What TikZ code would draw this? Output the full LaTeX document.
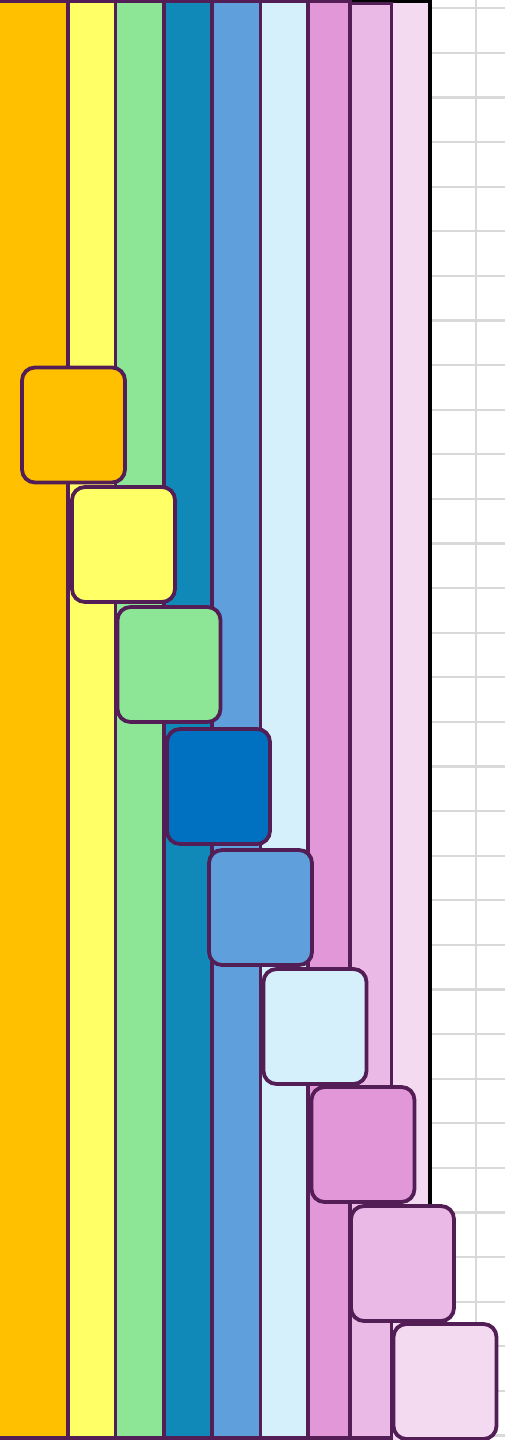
\documentclass[tikz,border=0pt]{standalone}
\definecolor{edge}{HTML}{531D55}
\definecolor{cA}{HTML}{FFC000}
\definecolor{cB}{HTML}{FFFF66}
\definecolor{cC}{HTML}{8DE596}
\definecolor{cD}{HTML}{1189B8}
\definecolor{cE}{HTML}{5F9FDC}
\definecolor{cF}{HTML}{D5F0FA}
\definecolor{cG}{HTML}{E297D9}
\definecolor{cH}{HTML}{EBB9E6}
\definecolor{cI}{HTML}{F4DAF1}
\definecolor{cDark}{HTML}{0070C0}
\definecolor{gridc}{HTML}{D9D9D9}
\begin{document}
\begin{tikzpicture}[x=1pt,y=-1pt,
  gridline/.style={draw=gridc,line width=2.2pt},
  colbar/.style={draw=edge,line width=3.6pt},
  tile/.style={draw=edge,line width=3.8pt,rounded corners=13pt,minimum width=103pt,minimum height=115pt,inner sep=0pt}]
\useasboundingbox (0,0) rectangle (505,1440);
% grid
\foreach \i in {0,...,32} {\draw[gridline] (420,8.3+44.6*\i) -- (510,8.3+44.6*\i);}
\draw[gridline] (475.6,-5) -- (475.6,1450);
% frame (last column)
\draw[fill=cI,draw=black,line width=3.8pt] (-10,1) rectangle (430,1450);
% columns
\foreach \l/\r/\t/\c in {-10/68/1/cA,68/115.5/1/cB,115.5/164/1/cC,164/212/1/cD,212/260.3/1/cE,260.3/308/1/cF,308/349.7/1/cG,349.7/391.3/3.3/cH}
  {\draw[colbar,fill=\c] (\l,\t) rectangle (\r,1438.2);}
% tiles
\node[tile,fill=cA] (b1) at (73.5,425) {};
\node[tile,fill=cB] (b2) at (123.5,544.5) {};
\node[tile,fill=cC] (b3) at (169,664.5) {};
\node[tile,fill=cDark] (b4) at (218.5,786.5) {};
\node[tile,fill=cE] (b5) at (260.5,907.5) {};
\node[tile,fill=cF] (b6) at (315,1026.5) {};
\node[tile,fill=cG] (b7) at (363,1144.5) {};
\node[tile,fill=cH] (b8) at (402.5,1263.5) {};
\node[tile,fill=cI] (b9) at (445,1381.5) {};
\end{tikzpicture}
\end{document}
